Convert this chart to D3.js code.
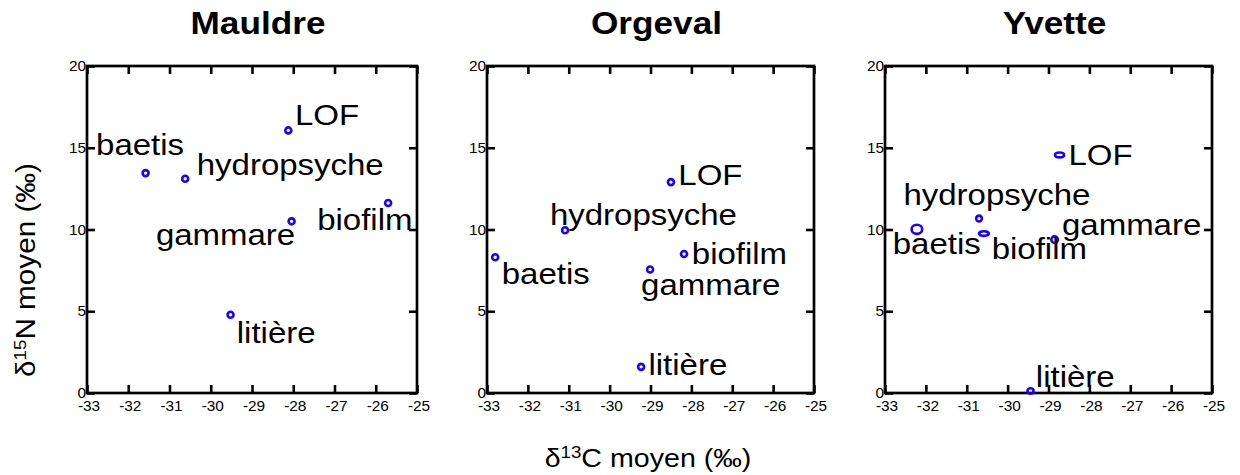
<!DOCTYPE html>
<html>
<head>
<meta charset="utf-8">
<script src="https://cdn.jsdelivr.net/npm/d3@7"></script>
<style>
  html, body { margin: 0; padding: 0; background: #fff; }
  svg { display: block; font-family: "Liberation Sans", Arial, Helvetica, sans-serif; }
</style>
</head>
<body>
<svg id="chart" width="1240" height="475"></svg>
<script>
// Stable-isotope biplots (δ13C vs δ15N) for three streams.
const sites = ["Mauldre", "Orgeval", "Yvette"];
const taxa = ["LOF", "baetis", "hydropsyche", "biofilm", "gammare", "litière"];

const xTicks = [-33, -32, -31, -30, -29, -28, -27, -26, -25];
const yTicks = [0, 5, 10, 15, 20];

// mean δ13C / δ15N per taxon (order of `taxa`)
const mauldreC = [-28.12, -31.58, -30.62, -25.70, -28.04, -29.52];
const mauldreN = [16.06, 13.45, 13.10, 11.62, 10.50, 4.79];
const orgevalC = [-28.50, -32.80, -31.09, -28.18, -29.01, -29.23];
const orgevalN = [12.90, 8.30, 9.95, 8.50, 7.55, 1.60];
const yvetteC  = [-28.73, -32.22, -30.70, -30.58, -28.85, -29.44];
const yvetteN  = [14.56, 10.01, 10.67, 9.75, 9.38, 0.12];

// spread around the Yvette means (‰), drawn as ellipses
const yvetteSdC = [0.11, 0.13, 0.07, 0.12, 0.08, 0.075];
const yvetteSdN = [0.15, 0.28, 0.18, 0.14, 0.20, 0.17];

// text annotation anchors (data units: left edge, baseline)
const mauldreLabelC = [-27.96, -32.78, -30.34, -27.42, -31.33, -29.37];
const mauldreLabelN = [16.38, 14.55, 13.33, 9.97, 9.05, 3.05];
const orgevalLabelC = [-28.32, -32.64, -31.46, -27.99, -29.23, -29.05];
const orgevalLabelN = [12.70, 6.69, 10.26, 7.91, 5.98, 1.08];
const yvetteLabelC  = [-28.51, -32.81, -32.55, -30.39, -28.67, -29.31];
const yvetteLabelN  = [13.93, 8.53, 11.48, 8.22, 9.65, 0.37];

const panels = [
  { c: mauldreC, n: mauldreN, lc: mauldreLabelC, ln: mauldreLabelN, sdC: null, sdN: null },
  { c: orgevalC, n: orgevalN, lc: orgevalLabelC, ln: orgevalLabelN, sdC: null, sdN: null },
  { c: yvetteC,  n: yvetteN,  lc: yvetteLabelC,  ln: yvetteLabelN,  sdC: yvetteSdC, sdN: yvetteSdN }
];

// layout
const panelLeft = [87, 487, 885];
const panelWidth = [330, 327, 327];
const plotTop = 66, plotBottom = 393;
const stretch = 1.1;         // horizontal text stretch
const blue = "#1a00ff";
const markerR = 3;
const tickLen = 8;

const svg = d3.select("#chart");

function stretchedText(g, x, y, txt, opts) {
  const t = g.append("text")
    .attr("transform", `translate(${x},${y}) scale(${stretch},1)`)
    .attr("font-size", opts.size)
    .attr("text-anchor", opts.anchor || "start")
    .attr("fill", "#000")
    .text(txt);
  if (opts.weight) t.attr("font-weight", opts.weight);
  return t;
}

panels.forEach((p, i) => {
  const x0 = panelLeft[i], x1 = x0 + panelWidth[i];
  const x = d3.scaleLinear().domain([-33, -25]).range([x0, x1]);
  const y = d3.scaleLinear().domain([0, 20]).range([plotBottom, plotTop]);
  const g = svg.append("g");

  // title
  stretchedText(g, (x0 + x1) / 2 + 6, 34, sites[i], { size: 32, anchor: "middle", weight: "bold" });

  // ticks with d3 axes (inward on all four sides)
  const axes = [
    { ax: d3.axisBottom(x).tickValues(xTicks).tickSize(-tickLen).tickFormat(""), tr: `translate(0,${plotBottom})` },
    { ax: d3.axisTop(x).tickValues(xTicks).tickSize(-tickLen).tickFormat(""), tr: `translate(0,${plotTop})` },
    { ax: d3.axisLeft(y).tickValues(yTicks).tickSize(-tickLen).tickFormat(""), tr: `translate(${x0},0)` },
    { ax: d3.axisRight(y).tickValues(yTicks).tickSize(-tickLen).tickFormat(""), tr: `translate(${x1},0)` }
  ];
  axes.forEach(a => {
    const ag = g.append("g").attr("transform", a.tr).call(a.ax);
    ag.select(".domain").remove();
    ag.selectAll(".tick line").attr("stroke", "#000").attr("stroke-width", 2.6);
  });

  // frame
  g.append("rect")
    .attr("x", x0).attr("y", plotTop)
    .attr("width", x1 - x0).attr("height", plotBottom - plotTop)
    .attr("fill", "none").attr("stroke", "#000").attr("stroke-width", 2.7);

  // tick labels
  xTicks.forEach(v => stretchedText(g, x(v) + 2, plotBottom + 18, String(v), { size: 14, anchor: "middle" }));
  yTicks.forEach(v => stretchedText(g, x0 - 1, y(v) + 5, String(v), { size: 14, anchor: "end" }));

  // markers
  taxa.forEach((name, k) => {
    const rx = p.sdC ? Math.abs(x(p.c[k] + p.sdC[k]) - x(p.c[k])) : markerR;
    const ry = p.sdN ? Math.abs(y(p.n[k] + p.sdN[k]) - y(p.n[k])) : markerR;
    g.append("ellipse")
      .attr("cx", x(p.c[k])).attr("cy", y(p.n[k]))
      .attr("rx", rx).attr("ry", ry)
      .attr("fill", "none").attr("stroke", blue).attr("stroke-width", 2.6);
  });

  // taxon labels
  taxa.forEach((name, k) => {
    stretchedText(g, x(p.lc[k]), y(p.ln[k]), name, { size: 30 });
  });
});

// shared axis titles
const xl = svg.append("text")
  .attr("transform", `translate(648,467) scale(${stretch},1)`)
  .attr("text-anchor", "middle").attr("font-size", 26);
xl.append("tspan").text("δ");
xl.append("tspan").attr("font-size", 17).attr("dy", -9).text("13");
xl.append("tspan").attr("dy", 9).text("C moyen (‰)");

const yl = svg.append("text")
  .attr("transform", `translate(35,270) rotate(-90) scale(${stretch},1)`)
  .attr("text-anchor", "middle").attr("font-size", 27);
yl.append("tspan").text("δ");
yl.append("tspan").attr("font-size", 17).attr("dy", -9).text("15");
yl.append("tspan").attr("dy", 9).text("N moyen (‰)");
</script>
</body>
</html>
